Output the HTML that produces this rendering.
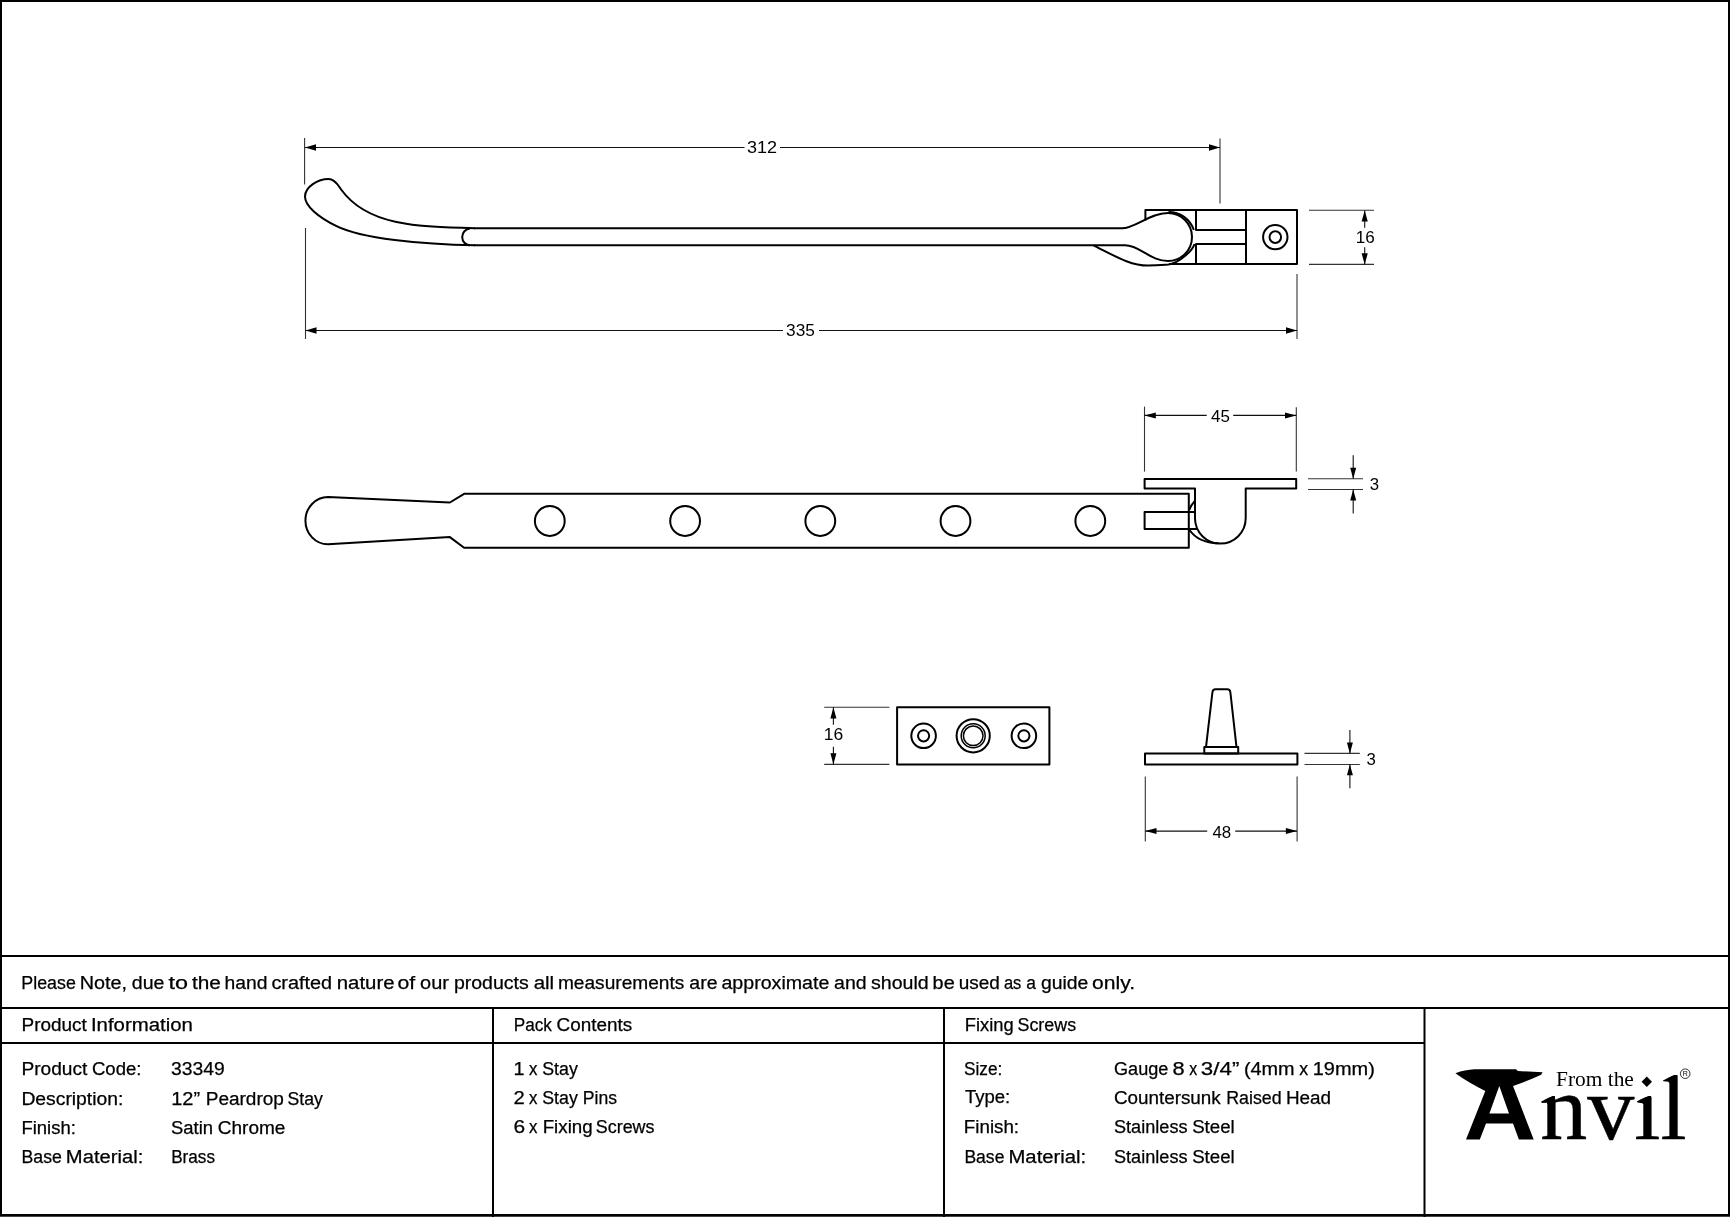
<!DOCTYPE html>
<html>
<head>
<meta charset="utf-8">
<style>
html,body{margin:0;padding:0;background:#fff;}
body{width:1730px;height:1217px;overflow:hidden;position:relative;}
svg{position:absolute;left:0;top:0;display:block;will-change:transform;}
.t{font-family:"Liberation Sans",sans-serif;font-size:18px;fill:#000;stroke:#000;stroke-width:0.25;}
.d{font-family:"Liberation Sans",sans-serif;font-size:16.8px;fill:#000;}
.o{fill:none;stroke:#000;stroke-width:2;stroke-linejoin:round;stroke-linecap:butt;}
.dl{fill:none;stroke:#111;stroke-width:1.1;}
.ex{fill:none;stroke:#333;stroke-width:1.1;}
.ah{fill:#000;stroke:none;}
</style>
</head>
<body>
<svg width="1730" height="1217" viewBox="0 0 1730 1217">
<rect x="0" y="0" width="1730" height="1217" fill="#fff"/>
<rect x="0" y="1216" width="1730" height="1" fill="#444"/>
<!-- outer border -->
<rect x="1" y="1" width="1728" height="1214" fill="none" stroke="#000" stroke-width="2"/>

<!-- TABLE LINES -->
<g fill="#000">
<rect x="0" y="955" width="1730" height="2"/>
<rect x="0" y="1007" width="1730" height="2"/>
<rect x="0" y="1042" width="1425" height="2"/>
<rect x="492" y="1008" width="2" height="1208"/>
<rect x="943" y="1008" width="2" height="1208"/>
<rect x="1423.5" y="1008" width="2" height="1208"/>
</g>

<!-- TABLE TEXT -->
<g class="t">
<text x="21.31" y="988.8" textLength="54.53" lengthAdjust="spacingAndGlyphs">Please</text>
<text x="79.80" y="988.8" textLength="47.33" lengthAdjust="spacingAndGlyphs">Note,</text>
<text x="131.81" y="988.8" textLength="32.62" lengthAdjust="spacingAndGlyphs">due</text>
<text x="168.50" y="988.8" textLength="19.52" lengthAdjust="spacingAndGlyphs">to</text>
<text x="191.90" y="988.8" textLength="28.89" lengthAdjust="spacingAndGlyphs">the</text>
<text x="224.63" y="988.8" textLength="42.89" lengthAdjust="spacingAndGlyphs">hand</text>
<text x="271.40" y="988.8" textLength="60.74" lengthAdjust="spacingAndGlyphs">crafted</text>
<text x="336.77" y="988.8" textLength="57.82" lengthAdjust="spacingAndGlyphs">nature</text>
<text x="397.42" y="988.8" textLength="17.70" lengthAdjust="spacingAndGlyphs">of</text>
<text x="420.09" y="988.8" textLength="28.83" lengthAdjust="spacingAndGlyphs">our</text>
<text x="453.92" y="988.8" textLength="74.83" lengthAdjust="spacingAndGlyphs">products</text>
<text x="533.66" y="988.8" textLength="20.49" lengthAdjust="spacingAndGlyphs">all</text>
<text x="557.94" y="988.8" textLength="126.43" lengthAdjust="spacingAndGlyphs">measurements</text>
<text x="689.32" y="988.8" textLength="28.18" lengthAdjust="spacingAndGlyphs">are</text>
<text x="721.41" y="988.8" textLength="107.95" lengthAdjust="spacingAndGlyphs">approximate</text>
<text x="834.12" y="988.8" textLength="32.52" lengthAdjust="spacingAndGlyphs">and</text>
<text x="871.01" y="988.8" textLength="57.73" lengthAdjust="spacingAndGlyphs">should</text>
<text x="932.59" y="988.8" textLength="22.15" lengthAdjust="spacingAndGlyphs">be</text>
<text x="958.65" y="988.8" textLength="41.16" lengthAdjust="spacingAndGlyphs">used</text>
<text x="1003.88" y="988.8" textLength="17.43" lengthAdjust="spacingAndGlyphs">as</text>
<text x="1026.33" y="988.8" textLength="9.68" lengthAdjust="spacingAndGlyphs">a</text>
<text x="1041.03" y="988.8" textLength="47.30" lengthAdjust="spacingAndGlyphs">guide</text>
<text x="1092.03" y="988.8" textLength="43.05" lengthAdjust="spacingAndGlyphs">only.</text>
<text x="21.55" y="1030.6" textLength="65.30" lengthAdjust="spacingAndGlyphs">Product</text><text x="90.93" y="1030.6" textLength="102.05" lengthAdjust="spacingAndGlyphs">Information</text>
<text x="513.75" y="1030.9" textLength="38.18" lengthAdjust="spacingAndGlyphs">Pack</text><text x="556.55" y="1030.9" textLength="75.70" lengthAdjust="spacingAndGlyphs">Contents</text>
<text x="964.68" y="1030.9" textLength="48.96" lengthAdjust="spacingAndGlyphs">Fixing</text><text x="1017.51" y="1030.9" textLength="58.61" lengthAdjust="spacingAndGlyphs">Screws</text>

<text x="21.44" y="1074.8" textLength="65.91" lengthAdjust="spacingAndGlyphs">Product</text><text x="91.97" y="1074.8" textLength="49.51" lengthAdjust="spacingAndGlyphs">Code:</text>
<text class="t" x="21.43" y="1104.7" textLength="101.89" lengthAdjust="spacingAndGlyphs">Description:</text>
<text class="t" x="21.47" y="1134.1" textLength="54.37" lengthAdjust="spacingAndGlyphs">Finish:</text>
<text x="21.52" y="1162.7" textLength="40.29" lengthAdjust="spacingAndGlyphs">Base</text><text x="65.88" y="1162.7" textLength="77.38" lengthAdjust="spacingAndGlyphs">Material:</text>
<text class="t" x="171.13" y="1074.8" textLength="53.71" lengthAdjust="spacingAndGlyphs">33349</text>
<text x="171.19" y="1104.7" textLength="28.93" lengthAdjust="spacingAndGlyphs">12”</text><text x="205.74" y="1104.7" textLength="78.18" lengthAdjust="spacingAndGlyphs">Peardrop</text><text x="287.52" y="1104.7" textLength="35.31" lengthAdjust="spacingAndGlyphs">Stay</text>
<text x="170.97" y="1134.1" textLength="42.08" lengthAdjust="spacingAndGlyphs">Satin</text><text x="217.74" y="1134.1" textLength="67.65" lengthAdjust="spacingAndGlyphs">Chrome</text>
<text class="t" x="171.15" y="1162.7" textLength="43.87" lengthAdjust="spacingAndGlyphs">Brass</text>

<text x="513.50" y="1074.8" textLength="11.02" lengthAdjust="spacingAndGlyphs">1</text><text x="529.10" y="1074.8" textLength="8.40" lengthAdjust="spacingAndGlyphs">x</text><text x="542.21" y="1074.8" textLength="35.62" lengthAdjust="spacingAndGlyphs">Stay</text>
<text x="513.48" y="1103.7" textLength="11.27" lengthAdjust="spacingAndGlyphs">2</text><text x="529.10" y="1103.7" textLength="8.40" lengthAdjust="spacingAndGlyphs">x</text><text x="542.21" y="1103.7" textLength="35.62" lengthAdjust="spacingAndGlyphs">Stay</text><text x="582.82" y="1103.7" textLength="34.19" lengthAdjust="spacingAndGlyphs">Pins</text>
<text x="513.44" y="1132.5" textLength="11.64" lengthAdjust="spacingAndGlyphs">6</text><text x="529.10" y="1132.5" textLength="8.40" lengthAdjust="spacingAndGlyphs">x</text><text x="542.66" y="1132.5" textLength="50.00" lengthAdjust="spacingAndGlyphs">Fixing</text><text x="595.81" y="1132.5" textLength="58.71" lengthAdjust="spacingAndGlyphs">Screws</text>

<text class="t" x="963.94" y="1074.8" textLength="38.35" lengthAdjust="spacingAndGlyphs">Size:</text>
<text class="t" x="964.9" y="1103.4" textLength="45.26" lengthAdjust="spacingAndGlyphs">Type:</text>
<text class="t" x="963.86" y="1132.5" textLength="55.2" lengthAdjust="spacingAndGlyphs">Finish:</text>
<text x="964.43" y="1162.7" textLength="39.98" lengthAdjust="spacingAndGlyphs">Base</text><text x="1008.47" y="1162.7" textLength="77.79" lengthAdjust="spacingAndGlyphs">Material:</text>
<text x="1113.99" y="1074.7" textLength="54.36" lengthAdjust="spacingAndGlyphs">Gauge</text><text x="1172.59" y="1074.7" textLength="12.14" lengthAdjust="spacingAndGlyphs">8</text><text x="1189.20" y="1074.7" textLength="8.00" lengthAdjust="spacingAndGlyphs">x</text><text x="1200.86" y="1074.7" textLength="38.48" lengthAdjust="spacingAndGlyphs">3/4”</text><text x="1243.90" y="1074.7" textLength="50.70" lengthAdjust="spacingAndGlyphs">(4mm</text><text x="1299.20" y="1074.7" textLength="8.90" lengthAdjust="spacingAndGlyphs">x</text><text x="1312.69" y="1074.7" textLength="62.14" lengthAdjust="spacingAndGlyphs">19mm)</text>
<text x="1113.95" y="1103.6" textLength="106.81" lengthAdjust="spacingAndGlyphs">Countersunk</text><text x="1226.21" y="1103.6" textLength="55.41" lengthAdjust="spacingAndGlyphs">Raised</text><text x="1285.95" y="1103.6" textLength="45.13" lengthAdjust="spacingAndGlyphs">Head</text>
<text x="1113.99" y="1132.7" textLength="73.55" lengthAdjust="spacingAndGlyphs">Stainless</text><text x="1192.16" y="1132.7" textLength="42.61" lengthAdjust="spacingAndGlyphs">Steel</text>
<text x="1113.99" y="1162.6" textLength="73.55" lengthAdjust="spacingAndGlyphs">Stainless</text><text x="1192.16" y="1162.6" textLength="42.61" lengthAdjust="spacingAndGlyphs">Steel</text>
</g>

<!-- DRAWING 1: TOP VIEW -->
<g id="d1">
<!-- dim 312 -->
<line class="ex" x1="304.6" y1="138" x2="304.6" y2="184.5"/>
<line class="ex" x1="1220" y1="138.5" x2="1220" y2="203.5"/>
<line class="dl" x1="305" y1="147.5" x2="744.5" y2="147.5"/>
<line class="dl" x1="780" y1="147.5" x2="1220" y2="147.5"/>
<path class="ah" d="M305 147.5 L316 144.3 L316 150.7 Z"/>
<path class="ah" d="M1220 147.5 L1209 144.3 L1209 150.7 Z"/>
<text class="d" x="747.03" y="153.1" textLength="30.05" lengthAdjust="spacingAndGlyphs">312</text>
<!-- dim 335 -->
<line class="ex" x1="305.5" y1="228" x2="305.5" y2="339"/>
<line class="ex" x1="1297" y1="274" x2="1297" y2="339"/>
<line class="dl" x1="305.5" y1="330.5" x2="783" y2="330.5"/>
<line class="dl" x1="819" y1="330.5" x2="1297" y2="330.5"/>
<path class="ah" d="M305.5 330.5 L316.5 327.3 L316.5 333.7 Z"/>
<path class="ah" d="M1297 330.5 L1286 327.3 L1286 333.7 Z"/>
<text class="d" x="786.07" y="336.0" textLength="28.83" lengthAdjust="spacingAndGlyphs">335</text>
<!-- dim 16 -->
<line class="ex" x1="1309" y1="210.2" x2="1374" y2="210.2"/>
<line class="ex" x1="1309" y1="264.4" x2="1374" y2="264.4"/>
<line class="dl" x1="1364.7" y1="210.5" x2="1364.7" y2="227.7"/>
<line class="dl" x1="1364.7" y1="247.2" x2="1364.7" y2="264.4"/>
<path class="ah" d="M1364.7 210.5 L1361.6 221.6 L1367.8 221.6 Z"/>
<path class="ah" d="M1364.7 264.4 L1361.6 253.3 L1367.8 253.3 Z"/>
<text class="d" x="1355.68" y="242.8" textLength="19.0" lengthAdjust="spacingAndGlyphs">16</text>

<!-- stay outline -->
<path class="o" d="M475 228.3 C415 226.8 367 225 341.5 190 C339 186.6 335.5 179 328.5 179 C318 179 305 187 305 196.5 C305 206 318 217 336.6 226.2 C361 238.5 421 244.6 475 245.3"/>
<path class="o" d="M469.8 228.8 A7.6 8.2 0 0 0 469.8 245.2"/>
<line class="o" x1="474" y1="228.3" x2="1122" y2="228.3"/>
<line class="o" x1="474" y1="245.3" x2="1125" y2="245.3"/>
<!-- peardrop at pivot -->
<path class="o" d="M1122 228.3 C1135 228.3 1150 213 1168 213 A24 24 0 0 1 1168 261 C1150 261 1140 245.3 1125 245.3"/>
<!-- shadow outline -->
<path class="o" d="M1093.5 245.3 C1115 256 1130 265.6 1148 265.6 C1157 265.6 1163 265 1168.5 264.6 C1180 262.5 1193 250 1194.5 244"/>
<path class="o" d="M1168.5 212 A26.5 26.5 0 0 1 1193.8 230"/>

<!-- bracket -->
<path class="o" d="M1145.4 220.5 L1145.4 210 L1297 210 L1297 264 L1169 264"/>
<path class="o" d="M1196 210 L1196 230 L1246 230"/>
<path class="o" d="M1196 264 L1196 244 L1246 244"/>
<line class="o" x1="1246" y1="210" x2="1246" y2="264"/>
<circle class="o" cx="1275.3" cy="237.1" r="12.2"/>
<circle class="o" cx="1275.3" cy="237.1" r="5.8"/>
</g>

<!-- DRAWING 2: SIDE VIEW -->
<g id="d2">
<line class="ex" x1="1144.5" y1="406.6" x2="1144.5" y2="471.6"/>
<line class="ex" x1="1296.3" y1="407.3" x2="1296.3" y2="471.6"/>
<line class="dl" x1="1144.5" y1="415.4" x2="1206.7" y2="415.4"/>
<line class="dl" x1="1233.2" y1="415.4" x2="1296.3" y2="415.4"/>
<path class="ah" d="M1144.5 415.4 L1155.8 412.4 L1155.8 418.4 Z"/>
<path class="ah" d="M1296.3 415.4 L1285 412.4 L1285 418.4 Z"/>
<text class="d" x="1211.1" y="422.0" textLength="18.88" lengthAdjust="spacingAndGlyphs">45</text>

<line class="ex" x1="1308" y1="478.8" x2="1363" y2="478.8"/>
<line class="ex" x1="1308" y1="489.5" x2="1363" y2="489.5"/>
<line class="dl" x1="1353.2" y1="455.2" x2="1353.2" y2="478.8"/>
<line class="dl" x1="1353.2" y1="489.5" x2="1353.2" y2="513.4"/>
<path class="ah" d="M1353.2 478.8 L1350.2 467.8 L1356.2 467.8 Z"/>
<path class="ah" d="M1353.2 489.5 L1350.2 500.5 L1356.2 500.5 Z"/>
<text class="d" x="1369.8" y="490.0" textLength="9.34" lengthAdjust="spacingAndGlyphs">3</text>

<path class="o" d="M328 497 L449.9 502.5 L464.1 493.8 L1188.8 493.8 L1188.8 547.8 L464.1 547.8 L449.9 537.1 L328 544.3 A22.6 23.65 0 0 1 328 497 Z"/>
<circle class="o" cx="549.8" cy="521" r="14.9"/>
<circle class="o" cx="685.1" cy="521" r="14.9"/>
<circle class="o" cx="820.3" cy="521" r="14.9"/>
<circle class="o" cx="955.5" cy="521" r="14.9"/>
<circle class="o" cx="1090.3" cy="521" r="14.9"/>
<!-- plate + U -->
<path class="o" d="M1195 488.6 L1144.6 488.6 L1144.6 479 L1296.2 479 L1296.2 488.6 L1245.7 488.6 L1245.7 518.3 A25.35 25.35 0 0 1 1195 518.3 Z"/>
<path class="o" d="M1195 512 L1144.6 512 L1144.6 529 L1197.5 529"/>
<path class="o" d="M1195 500.8 C1192.5 503.5 1190.5 506.5 1189.3 510"/>
<path class="o" d="M1189.3 529.7 C1195 538 1205 543 1218.5 543.2"/>
</g>

<!-- DRAWING 3: PLATE -->
<g id="d3">
<line class="ex" x1="824.2" y1="707.3" x2="889.4" y2="707.3"/>
<line class="ex" x1="824.2" y1="764.4" x2="889.4" y2="764.4"/>
<line class="dl" x1="833.4" y1="707.3" x2="833.4" y2="724.7"/>
<line class="dl" x1="833.4" y1="746.7" x2="833.4" y2="764.4"/>
<path class="ah" d="M833.4 707.3 L830.4 718.4 L836.4 718.4 Z"/>
<path class="ah" d="M833.4 764.4 L830.4 753.3 L836.4 753.3 Z"/>
<text class="d" x="823.86" y="740.3" textLength="19.44" lengthAdjust="spacingAndGlyphs">16</text>
<rect class="o" x="897.1" y="707.3" width="152.3" height="57.1"/>
<circle class="o" cx="923.6" cy="735.8" r="12.3"/>
<circle class="o" cx="923.6" cy="735.8" r="5.6"/>
<circle class="o" cx="1023.9" cy="735.8" r="12.3"/>
<circle class="o" cx="1023.9" cy="735.8" r="5.6"/>
<circle class="o" cx="973.2" cy="735.8" r="16.6"/>
<circle class="o" cx="973.2" cy="735.8" r="12" style="stroke-width:1.5"/>
<circle class="o" cx="973.2" cy="735.8" r="9.8" style="stroke-width:1.5"/>
</g>

<!-- DRAWING 4: PIN -->
<g id="d4">
<rect class="o" x="1145" y="753.4" width="152.4" height="11.1"/>
<rect class="o" x="1204.3" y="747.1" width="33.9" height="6.3"/>
<path class="o" d="M1206 747.1 L1212.4 692.5 Q1212.8 689.3 1215.5 689.3 L1227.3 689.3 Q1230 689.3 1230.4 692.5 L1236.5 747.1"/>
<line class="ex" x1="1304.5" y1="753.4" x2="1359.8" y2="753.4"/>
<line class="ex" x1="1304.5" y1="764.5" x2="1359.8" y2="764.5"/>
<line class="dl" x1="1349.9" y1="730.1" x2="1349.9" y2="753.4"/>
<line class="dl" x1="1349.9" y1="764.5" x2="1349.9" y2="788.3"/>
<path class="ah" d="M1349.9 753.4 L1346.9 742.6 L1352.9 742.6 Z"/>
<path class="ah" d="M1349.9 764.5 L1346.9 775.3 L1352.9 775.3 Z"/>
<text class="d" x="1366.6" y="764.8" textLength="9.34" lengthAdjust="spacingAndGlyphs">3</text>

<line class="ex" x1="1145.3" y1="776.5" x2="1145.3" y2="841.4"/>
<line class="ex" x1="1297.1" y1="776.5" x2="1297.1" y2="841.4"/>
<line class="dl" x1="1145.3" y1="831.1" x2="1207.2" y2="831.1"/>
<line class="dl" x1="1235.2" y1="831.1" x2="1297.1" y2="831.1"/>
<path class="ah" d="M1145.3 831.1 L1156.5 828.1 L1156.5 834.1 Z"/>
<path class="ah" d="M1297.1 831.1 L1285.9 828.1 L1285.9 834.1 Z"/>
<text class="d" x="1212.4" y="837.7" textLength="18.78" lengthAdjust="spacingAndGlyphs">48</text>
</g>

<!-- LOGO -->
<g id="logo">
<path fill="#000" fill-rule="evenodd" d="M1455.4 1073.3 C1462 1070.5 1468 1069.6 1474.6 1069.2 L1516 1069.2 L1517.8 1071.1 L1542.6 1072.2 L1541.1 1074.8 C1532 1079 1522 1083 1513 1085.9 L1533.7 1139.5 L1518.9 1139.5 L1513 1123.6 L1486 1123.6 L1479.8 1139.5 L1466 1139.5 L1485.3 1091 C1475 1086 1465 1080 1455.4 1073.3 Z M1499.3 1085.9 L1489.4 1113.6 L1509 1113.6 Z"/>
<text transform="translate(1540.3 1139.0) scale(0.99 0.963)" x="0" y="0" style="font-family:'Liberation Serif',serif;font-size:95px;" fill="#000" stroke="#000" stroke-width="0.5">nvıl</text>
<path fill="#fff" d="M1539 1094 L1556 1094 L1554.9 1096 L1552.5 1096 L1541.2 1101.6 L1539 1101.6 Z M1635 1094 L1652 1094 L1651 1096 L1648.4 1096.1 L1636.9 1101.3 L1635 1101.3 Z M1660 1073 L1678 1073 L1677 1075.1 L1674.2 1075.1 L1662.9 1080.5 L1660 1080.5 Z"/>
<path fill="#000" d="M1541.2 1101.6 L1552.5 1096 L1554.9 1096 L1554.9 1104 L1547.3 1104 L1547.1 1102.7 L1541.7 1102.9 Z M1636.9 1101.3 L1648.4 1096.1 L1651 1096 L1651 1104 L1642.8 1104 L1642.5 1103.3 L1637.5 1102.5 Z M1662.9 1080.5 L1674.2 1075.1 L1677 1075.1 L1677 1083 L1669 1083 L1668.5 1081.7 L1663.5 1081.2 Z"/>
<text x="1556" y="1086" style="font-family:'Liberation Serif',serif;font-size:21.4px;" fill="#000">From the</text>
<path fill="#000" d="M1646.8 1076.5 L1652 1081.7 L1646.8 1086.9 L1641.6 1081.7 Z"/>
<circle cx="1685.2" cy="1073.7" r="4.8" fill="none" stroke="#000" stroke-width="0.8"/>
<text x="1685.2" y="1076.3" text-anchor="middle" style="font-family:'Liberation Sans',sans-serif;font-size:7px;" fill="#000">R</text>
</g>
</svg>
</body>
</html>
